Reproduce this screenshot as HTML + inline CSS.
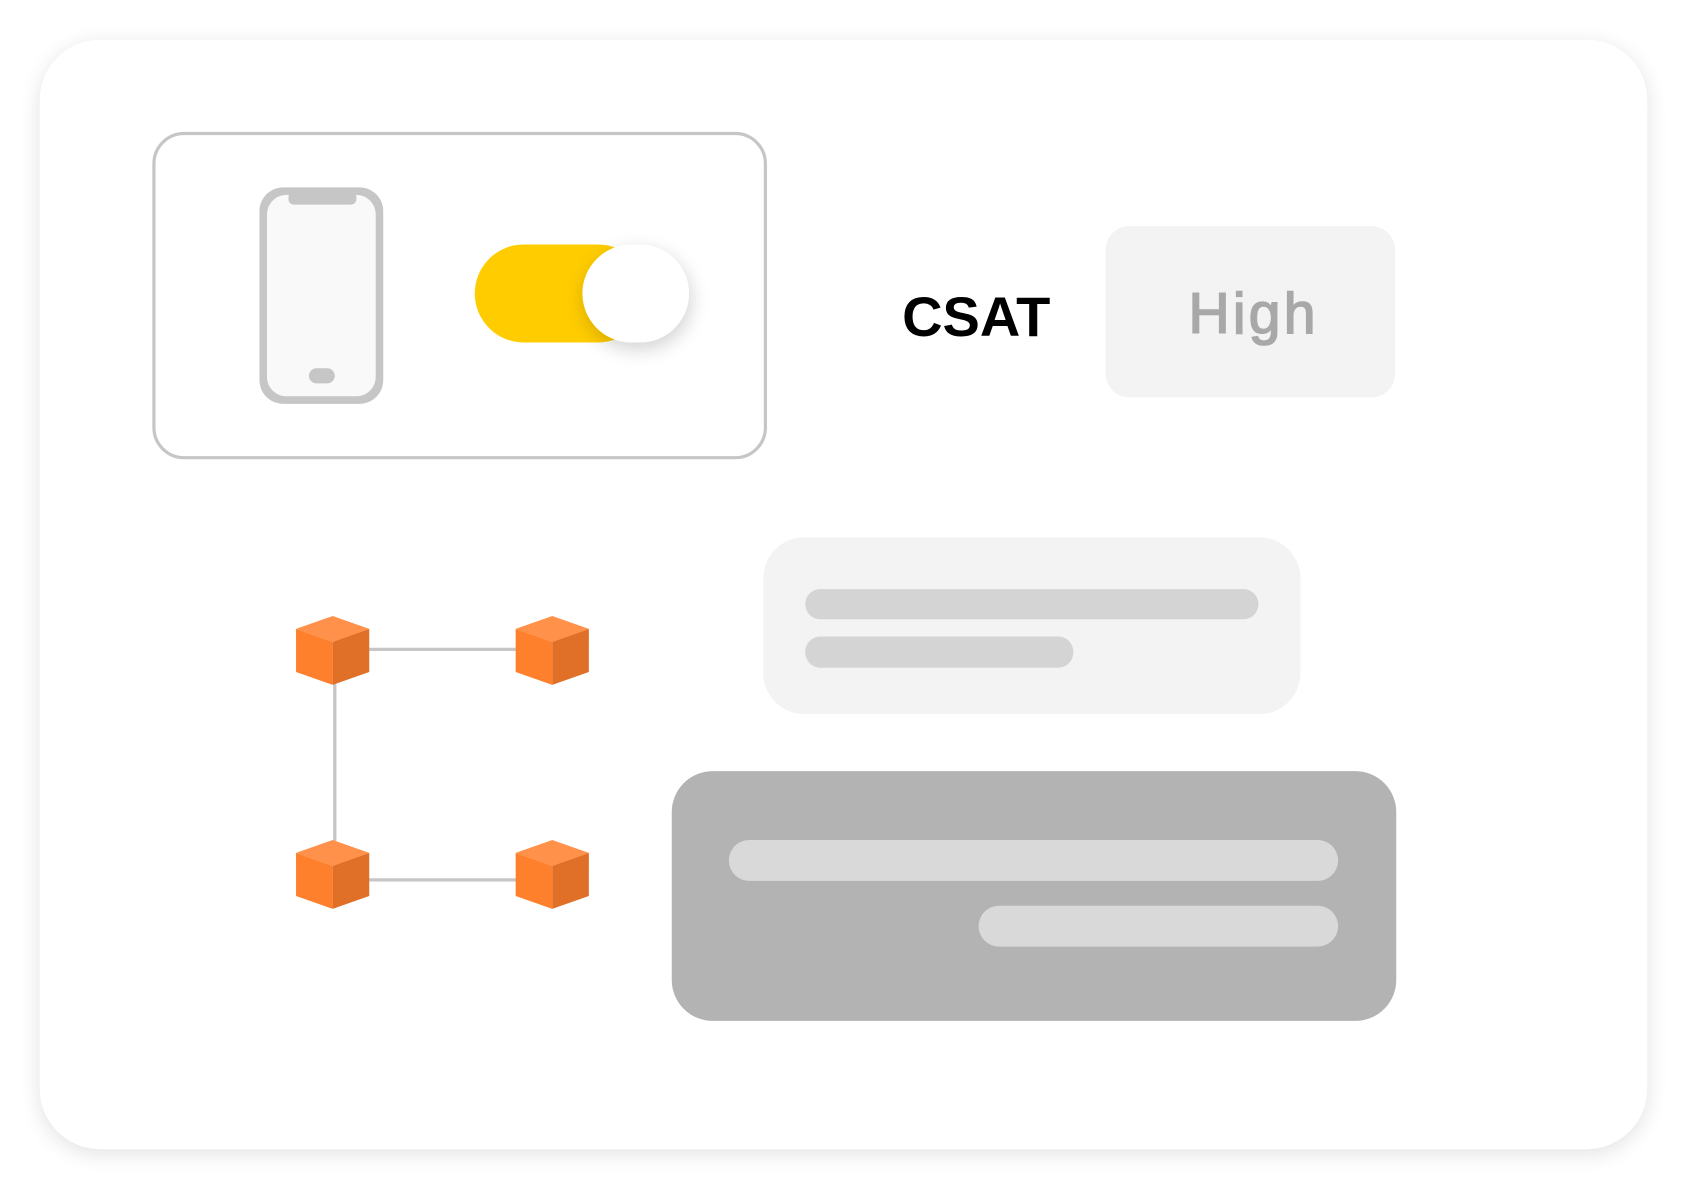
<!DOCTYPE html>
<html><head><meta charset="utf-8"><style>
html,body{margin:0;padding:0;background:#fff;width:1688px;height:1190px;overflow:hidden}
svg{display:block}
</style></head><body>
<svg width="1688" height="1190" viewBox="0 0 1568 1105" preserveAspectRatio="none" xmlns="http://www.w3.org/2000/svg">
<defs>
<filter id="sh" x="-10%" y="-10%" width="120%" height="120%"><feGaussianBlur in="SourceAlpha" stdDeviation="10"/><feOffset dy="4"/><feComponentTransfer><feFuncA type="linear" slope="0.12"/></feComponentTransfer><feMerge><feMergeNode/><feMergeNode in="SourceGraphic"/></feMerge></filter>
<filter id="ks" x="-50%" y="-50%" width="200%" height="200%"><feGaussianBlur in="SourceAlpha" stdDeviation="9"/><feOffset dx="2" dy="6"/><feComponentTransfer><feFuncA type="linear" slope="0.18"/></feComponentTransfer><feMerge><feMergeNode/><feMergeNode in="SourceGraphic"/></feMerge></filter>
<g id="cube">
<polygon points="-34,-20 0,-32 34,-20 0,-8" fill="#ff914a"/>
<polygon points="-34,-20 0,-8 0,32 -34,20" fill="#ff802c"/>
<polygon points="0,-8 34,-20 34,20 0,32" fill="#e07027"/>
</g>
</defs>
<rect x="37" y="37" width="1493" height="1030" rx="56" fill="#fff" filter="url(#sh)"/>
<rect x="143" y="124" width="568" height="301" rx="28" fill="none" stroke="#c6c6c6" stroke-width="3"/>
<rect x="241" y="174" width="115" height="201" rx="22" fill="#c6c6c6"/>
<rect x="248" y="181" width="101" height="187" rx="18" fill="#f9f9f9"/>
<rect x="268" y="178" width="63" height="12" rx="5" fill="#c6c6c6"/>
<rect x="287" y="342" width="24" height="14" rx="7" fill="#c6c6c6"/>
<rect x="441" y="227" width="160" height="91" rx="45.5" fill="#ffcc00"/>
<rect x="541" y="227" width="99" height="91" rx="45.5" fill="#fff" filter="url(#ks)"/>
<text x="838" y="312" font-family="Liberation Sans, sans-serif" font-weight="bold" font-size="52" fill="#000">CSAT</text>
<rect x="1027" y="210" width="269" height="159" rx="22" fill="#f3f3f3"/>
<text x="1104" y="309" font-family="Liberation Sans, sans-serif" font-size="53" letter-spacing="3" fill="#a8a8a8" stroke="#a8a8a8" stroke-width="1.5">High</text>
<rect x="709" y="499" width="499" height="164" rx="38" fill="#f3f3f3"/>
<rect x="748" y="547" width="421" height="28" rx="14" fill="#d4d4d4"/>
<rect x="748" y="591" width="249" height="29" rx="14" fill="#d4d4d4"/>
<rect x="624" y="716" width="673" height="232" rx="38" fill="#b3b3b3"/>
<rect x="677" y="780" width="566" height="38" rx="19" fill="#d9d9d9"/>
<rect x="909" y="841" width="334" height="38" rx="19" fill="#d9d9d9"/>
<g stroke="#c6c6c6" stroke-width="3">
<line x1="340" y1="603" x2="482" y2="603"/>
<line x1="340" y1="817" x2="482" y2="817"/>
<line x1="311" y1="630" x2="311" y2="785"/>
</g>
<use href="#cube" x="309" y="604"/>
<use href="#cube" x="513" y="604"/>
<use href="#cube" x="309" y="812"/>
<use href="#cube" x="513" y="812"/>
</svg>
</body></html>
